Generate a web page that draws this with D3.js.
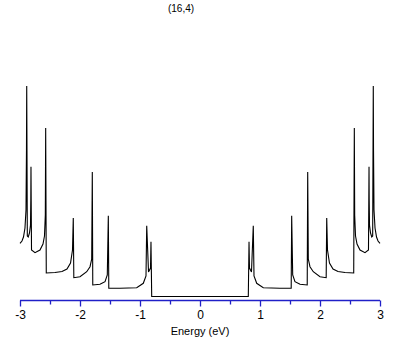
<!DOCTYPE html>
<html>
<head>
<meta charset="utf-8">
<script src="https://cdn.jsdelivr.net/npm/d3@7"></script>
<style>
  html, body { margin: 0; padding: 0; background: #fff; }
  svg { display: block; }
  text { font-family: "Liberation Sans", Arial, sans-serif; }
</style>
</head>
<body>
<svg id="chart" width="409" height="345"></svg>
<script>
// ---- data ----
const title = "(16,4)";
const xLabel = "Energy (eV)";
const majorTicks = [-3, -2, -1, 0, 1, 2, 3];
const minorTicks = [-2.5, -1.5, -0.5, 0.5, 1.5, 2.5];
// energy (eV)
const energy = [
  -3.000, -2.967, -2.942, -2.917, -2.900, -2.892, -2.888, -2.878, -2.862, -2.842,
  -2.825, -2.820, -2.817, -2.808, -2.750, -2.667, -2.617, -2.592, -2.578, -2.572,
  -2.562, -2.417, -2.300, -2.217, -2.158, -2.125, -2.112, -2.103, -2.000, -1.888,
  -1.833, -1.805, -1.795, -1.787, -1.667, -1.583, -1.545, -1.528, -1.520, -1.333,
  -1.055, -0.945, -0.900, -0.888, -0.858, -0.825, -0.817, -0.805, 0.000,
  0.805, 0.817, 0.825, 0.858, 0.888, 0.900, 0.945, 1.055, 1.333, 1.520,
  1.528, 1.545, 1.583, 1.667, 1.787, 1.795, 1.805, 1.833, 1.888, 2.000,
  2.103, 2.112, 2.125, 2.158, 2.217, 2.300, 2.417, 2.562, 2.572, 2.578,
  2.592, 2.617, 2.667, 2.750, 2.808, 2.817, 2.820, 2.825, 2.842, 2.862,
  2.878, 2.888, 2.892, 2.900, 2.917, 2.942, 2.967, 3.000
];
// density of states (arbitrary units)
const dos = [
  5.32, 5.55, 5.95, 6.85, 8.65, 14.65, 21.05, 6.05, 5.95, 6.35,
  7.15, 9.65, 12.98, 4.65, 4.38, 4.65, 5.25, 6.05, 8.15, 16.85,
  2.35, 2.40, 2.50, 2.75, 3.35, 4.65, 7.85, 1.88, 1.98, 2.48,
  2.98, 3.75, 12.45, 1.15, 1.22, 1.48, 2.15, 8.08, 0.82, 0.82,
  0.88, 1.32, 2.05, 7.08, 2.45, 2.85, 5.48, 0.00, 0.00,
  0.00, 5.48, 2.85, 2.45, 7.08, 2.05, 1.32, 0.88, 0.82, 0.82,
  8.08, 2.15, 1.48, 1.22, 1.15, 12.45, 3.75, 2.98, 2.48, 1.98,
  1.88, 7.85, 4.65, 3.35, 2.75, 2.50, 2.40, 2.35, 16.85, 8.15,
  6.05, 5.25, 4.65, 4.38, 4.65, 12.98, 9.65, 7.15, 6.35, 5.95,
  6.05, 21.05, 14.65, 8.65, 6.85, 5.95, 5.55, 5.32
];

// ---- drawing ----
const svg = d3.select("#chart");
const x = d3.scaleLinear().domain([-3, 3]).range([20, 380]);
const y = d3.scaleLinear().domain([0, 25]).range([296.5, 46.5]);

const pts = energy.map((e, i) => [e, dos[i]]);
const line = d3.line().x(d => x(d[0])).y(d => y(d[1]));

svg.append("path")
  .datum(pts)
  .attr("d", line)
  .attr("fill", "none")
  .attr("stroke", "#000")
  .attr("stroke-width", 1.1)
  .attr("stroke-linejoin", "miter");

const axisColor = "#2020c8";
const axisY = 300.5;

const gMinor = svg.append("g").attr("transform", `translate(0,${axisY})`)
  .call(d3.axisBottom(x).tickValues(minorTicks).tickSize(4).tickFormat(""));
const gMajor = svg.append("g").attr("transform", `translate(0,${axisY})`)
  .call(d3.axisBottom(x).tickValues(majorTicks).tickSize(6).tickSizeOuter(0)
        .tickPadding(4).tickFormat(d => String(d)));

[gMinor, gMajor].forEach(g => {
  g.select(".domain").attr("stroke", axisColor).attr("stroke-width", 1.3);
  g.selectAll(".tick line").attr("stroke", axisColor).attr("stroke-width", 1.3);
});
gMinor.select(".domain").remove();
gMajor.select(".domain").attr("d", `M${x(-3)},0H${x(3)}`);
gMajor.selectAll(".tick text")
  .attr("fill", "#000")
  .attr("font-size", "12px")
  .attr("font-family", "'Liberation Sans', Arial, sans-serif");

svg.append("text")
  .attr("x", 200).attr("y", 335)
  .attr("text-anchor", "middle")
  .attr("font-size", "11px")
  .attr("fill", "#000")
  .text(xLabel);

svg.append("text")
  .attr("x", 181).attr("y", 12)
  .attr("text-anchor", "middle")
  .attr("font-size", "10px")
  .attr("fill", "#000")
  .text(title);
</script>
</body>
</html>
